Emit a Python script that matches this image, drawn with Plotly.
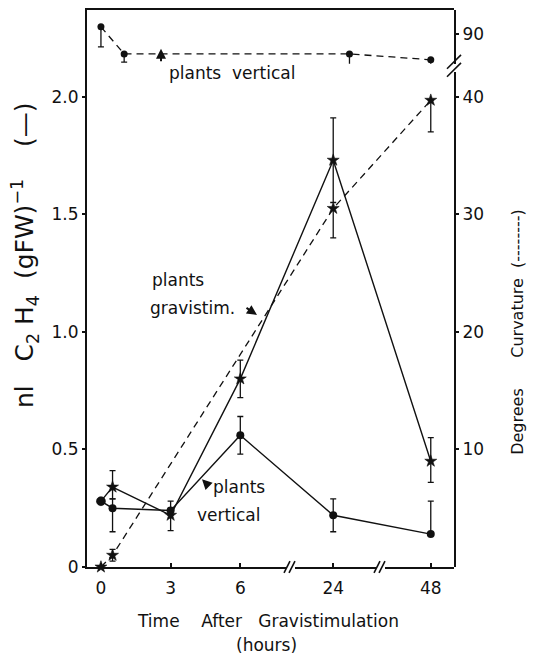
import numpy as np
import plotly.graph_objects as go

# ---------------- data ----------------
# Ethylene production, nl C2H4 (gFW)^-1  (left axis, solid lines)
hours_eth = [0, 0.5, 3, 6, 24, 48]
eth_gravi = [0.28, 0.34, 0.22, 0.80, 1.73, 0.45]          # stars
eth_gravi_err_plus = [0, 0.07, 0, 0.08, 0.18, 0.10]
eth_gravi_err_minus = [0, 0.05, 0.065, 0.08, 0.18, 0.09]
eth_vert = [0.28, 0.25, 0.24, 0.56, 0.22, 0.14]           # dots
eth_vert_err_plus = [0, 0.04, 0.04, 0.08, 0.07, 0.14]
eth_vert_err_minus = [0, 0.10, 0, 0.08, 0.07, 0]

# Curvature, degrees (right axis, dashed lines)
hours_curv_gravi = [0, 0.5, 24, 48]
curv_gravi = [0, 1.0, 30.5, 39.7]                         # stars
curv_gravi_err_plus = [0, 0.5, 0, 0]
curv_gravi_err_minus = [0, 0.5, 2.5, 2.7]

hours_curv_vert = [0, 1, 28, 48]
curv_vert = [90.6, 88.3, 88.3, 87.8]                      # dots (upper broken segment)
curv_vert_err_minus = [1.7, 0.7, 1.4, 2.5]

x_tick_hours = [0, 3, 6, 24, 48]
x_tick_labels = ["0", "3", "6", "24", "48"]
left_ticks = [0, 0.5, 1.0, 1.5, 2.0]
left_labels = ["0", "0.5", "1.0", "1.5", "2.0"]
right_ticks = [10, 20, 30, 40]
right_top_ticks = [90]

# broken time axis: hours -> axis position
BREAK_H = [0, 6, 24, 48]
BREAK_P = [0, 6, 10, 14.2]


def tpos(h):
    return list(np.interp(h, BREAK_H, BREAK_P))


# ---------------- layout helpers ----------------
# The page body has an 8px margin, so the figure starts at window (8, 8).
OFF = 8
W, H = 536 - OFF, 663 - 2 * OFF
L, R, T, B = 87 - OFF, 82, 0, 88
PW, PH = W - L - R, H - T - B
BOTTOM_WIN = H - B + OFF          # window y of the plot bottom (567)


def px(xw):  # window x pixel -> paper x
    return (xw - OFF - L) / PW


def py(yw):  # window y pixel -> paper y
    return (BOTTOM_WIN - yw) / PH


FONT = "DejaVu Sans"
BLACK = "#111111"

fig = go.Figure()

err_style = dict(type="data", symmetric=False, color=BLACK, thickness=1.3, width=3)
n_g = len(eth_gravi)

# ethylene, gravistimulated (solid, stars; shared start point drawn as a dot)
fig.add_trace(go.Scatter(
    x=tpos(hours_eth), y=eth_gravi, mode="lines+markers",
    line=dict(color=BLACK, width=1.4),
    marker=dict(symbol=["circle"] + ["star"] * (n_g - 1),
                size=9, color=BLACK, line=dict(width=0.6, color=BLACK)),
    error_y=dict(array=eth_gravi_err_plus, arrayminus=eth_gravi_err_minus, **err_style),
    cliponaxis=False, showlegend=False))
# ethylene, vertical (solid, dots)
fig.add_trace(go.Scatter(
    x=tpos(hours_eth), y=eth_vert, mode="lines+markers",
    line=dict(color=BLACK, width=1.4),
    marker=dict(symbol="circle", size=8, color=BLACK),
    error_y=dict(array=eth_vert_err_plus, arrayminus=eth_vert_err_minus, **err_style),
    cliponaxis=False, showlegend=False))
# curvature, gravistimulated (dashed, stars)
fig.add_trace(go.Scatter(
    x=tpos(hours_curv_gravi), y=curv_gravi, mode="lines+markers", yaxis="y2",
    line=dict(color=BLACK, width=1.3, dash="7px,5px"),
    marker=dict(symbol="star", size=9, color=BLACK, line=dict(width=0.6, color=BLACK)),
    error_y=dict(array=curv_gravi_err_plus, arrayminus=curv_gravi_err_minus, **err_style),
    cliponaxis=False, showlegend=False))
# curvature, vertical (dashed, dots) on the upper broken segment
fig.add_trace(go.Scatter(
    x=tpos(hours_curv_vert), y=curv_vert, mode="lines+markers", yaxis="y3",
    line=dict(color=BLACK, width=1.3, dash="7px,5px"),
    marker=dict(symbol="circle", size=7, color=BLACK),
    error_y=dict(array=[0] * len(curv_vert), arrayminus=curv_vert_err_minus, **err_style),
    cliponaxis=False, showlegend=False))

tickfont = dict(family=FONT, size=17, color=BLACK)

# scales (pixels per unit)
PX_PER_UNIT_LEFT = 236.0
PX_PER_DEG = PX_PER_UNIT_LEFT / 20
y2_top_win, y3_bot_win, y90_win = 70, 62, 32
y2_range = [0, (BOTTOM_WIN - y2_top_win) / PX_PER_DEG]
y3_bot_val = 90 - (y3_bot_win - y90_win) / PX_PER_DEG
y3_range = [y3_bot_val, y3_bot_val + (y3_bot_win - (T + OFF)) / PX_PER_DEG]

fig.update_layout(
    width=W, height=H,
    margin=dict(l=L, r=R, t=T, b=B, pad=0),
    paper_bgcolor="white", plot_bgcolor="rgba(0,0,0,0)",
    font=dict(family=FONT, color=BLACK),
    xaxis=dict(
        range=[-0.6, 15.2], tickvals=tpos(x_tick_hours), ticktext=x_tick_labels,
        showline=True, linewidth=2, linecolor=BLACK, mirror=True,
        ticks="inside", ticklen=4, tickwidth=1.5, tickcolor=BLACK,
        showgrid=False, zeroline=False, tickfont=tickfont, ticklabelstandoff=5),
    yaxis=dict(
        range=[0, PH / PX_PER_UNIT_LEFT], tickvals=left_ticks, ticktext=left_labels,
        showline=True, linewidth=2, linecolor=BLACK,
        ticks="outside", ticklen=3, tickwidth=1.5, tickcolor=BLACK,
        showgrid=False, zeroline=False, tickfont=tickfont),
    yaxis2=dict(
        anchor="x", side="right", domain=[0, py(y2_top_win)], range=y2_range,
        tickvals=right_ticks, ticktext=[str(v) for v in right_ticks],
        showline=True, linewidth=2, linecolor=BLACK,
        ticks="outside", ticklen=3, tickwidth=1.5, tickcolor=BLACK,
        showgrid=False, zeroline=False, tickfont=tickfont),
    yaxis3=dict(
        anchor="x", side="right", domain=[py(y3_bot_win), 1], range=y3_range,
        tickvals=right_top_ticks, ticktext=[str(v) for v in right_top_ticks],
        showline=True, linewidth=2, linecolor=BLACK,
        ticks="outside", ticklen=3, tickwidth=1.5, tickcolor=BLACK,
        showgrid=False, zeroline=False, tickfont=tickfont),
)

shapes = []
# x-axis break marks
for bx in (290, 380):
    shapes.append(dict(type="line", xref="paper", yref="paper",
                       x0=px(bx - 4), x1=px(bx + 5), y0=py(567), y1=py(567),
                       line=dict(color="white", width=4)))
    for dx in (-3, 2):
        shapes.append(dict(type="line", xref="paper", yref="paper",
                           x0=px(bx + dx - 3), y0=py(573), x1=px(bx + dx + 3), y1=py(561),
                           line=dict(color=BLACK, width=1.6)))
# right-axis break marks
for dy in (0, 8):
    shapes.append(dict(type="line", xref="paper", yref="paper",
                       x0=px(447), y0=py(75 - dy), x1=px(461), y1=py(61 - dy),
                       line=dict(color=BLACK, width=1.6)))
fig.update_layout(shapes=shapes)

ann = []


def text_ann(text, xw, yw, xanchor="left", size=17, angle=0):
    ann.append(dict(text=text, xref="paper", yref="paper", x=px(xw), y=py(yw),
                    xanchor=xanchor, yanchor="middle", showarrow=False,
                    textangle=angle, font=dict(family=FONT, size=size, color=BLACK)))


def arrow_ann(tip_x, tip_y, ax, ay):
    ann.append(dict(text="", xref="paper", yref="paper", x=px(tip_x), y=py(tip_y),
                    ax=ax, ay=ay, showarrow=True, arrowhead=2, arrowsize=1,
                    arrowwidth=2, arrowcolor=BLACK, standoff=0))


NB = "\u00a0"
# in-plot labels
text_ann("plants" + NB * 2 + "vertical", 167, 71)
arrow_ann(161, 47, 0, 14)
text_ann("plants", 150, 279)
text_ann("gravistim.", 148, 307)
arrow_ann(257, 314, -12, -8)
text_ann("plants", 211, 487)
text_ann("vertical", 195, 515)
arrow_ann(202, 479, 7, 7)

# axis titles
text_ann("Time" + NB * 4 + "After" + NB * 3 + "Gravistimulation", 268, 621, xanchor="center", size=17)
text_ann("(hours)", 266, 645, xanchor="center", size=17)
text_ann("nl" + NB * 3 + "C<sub>2</sub>" + NB + "H<sub>4</sub>" + NB * 2 + "(gFW)<sup>\u22121</sup>"
         + NB * 4 + "(\u2014)",
         25, 254, xanchor="center", size=25, angle=-90)
text_ann("Degrees" + NB * 6 + "Curvature" + NB * 2 + "(--------)", 518, 331,
         xanchor="center", size=16, angle=-90)

fig.update_layout(annotations=ann)

fig.write_html("out.html")
